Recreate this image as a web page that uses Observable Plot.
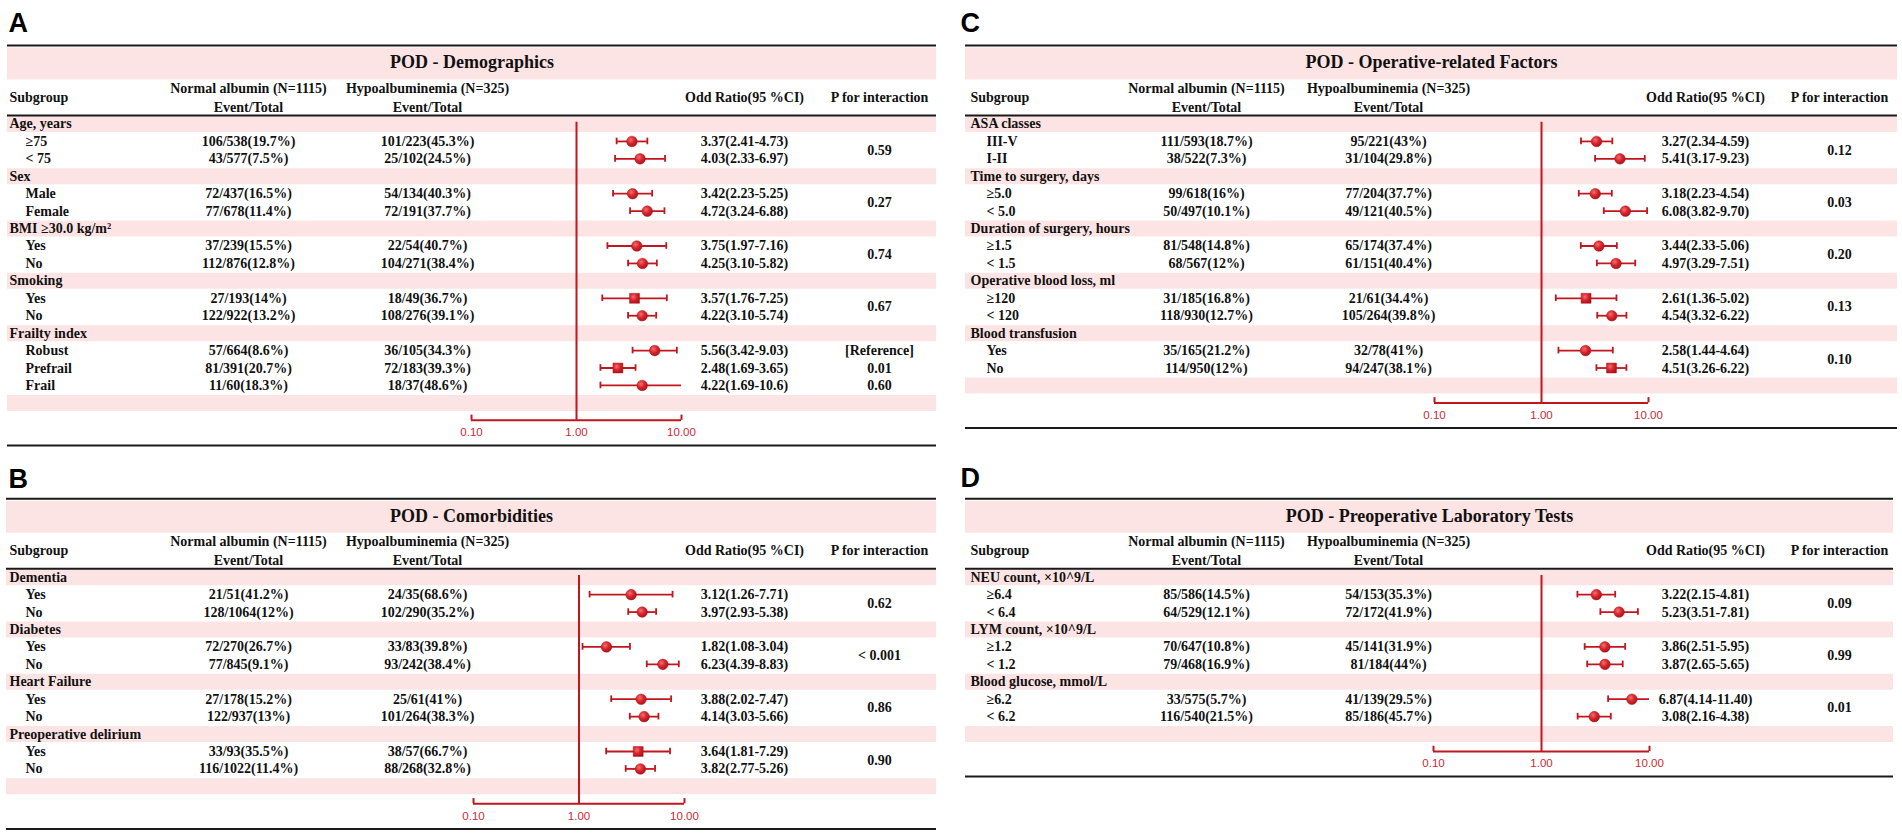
<!DOCTYPE html>
<html><head><meta charset="utf-8">
<script src="https://cdn.jsdelivr.net/npm/d3@7"></script>
<script src="https://cdn.jsdelivr.net/npm/@observablehq/plot@0.6"></script>
<style>
body{margin:0;background:#fff;}
#root{position:relative;width:1902px;height:835px;overflow:hidden;background:#fff;}
#root > svg{position:absolute;}
</style></head><body><div id="root"></div>
<script>
// ---------- shared text ----------
const hdrSubgroup = "Subgroup";
const hdrNormal = ["Normal albumin (N=1115)", "Event/Total"];
const hdrHypo = ["Hypoalbuminemia (N=325)", "Event/Total"];
const hdrOR = "Odd Ratio(95 %CI)";
const hdrP = "P for interaction";
const tickValues = [0.1, 1, 10];
const tickLabels = ["0.10", "1.00", "10.00"];

// ---------- Panel A ----------
const A_title = "POD - Demographics";
const A_groups = ["Age, years", "Sex", "BMI \u226530.0 kg/m\u00b2", "Smoking", "Frailty index"];
const A_subs = ["\u226575", "< 75", "Male", "Female", "Yes", "No", "Yes", "No", "Robust", "Prefrail", "Frail"];
const A_subOf = [0, 0, 1, 1, 2, 2, 3, 3, 4, 4, 4];
const A_normal = ["106/538(19.7%)", "43/577(7.5%)", "72/437(16.5%)", "77/678(11.4%)", "37/239(15.5%)", "112/876(12.8%)", "27/193(14%)", "122/922(13.2%)", "57/664(8.6%)", "81/391(20.7%)", "11/60(18.3%)"];
const A_hypo = ["101/223(45.3%)", "25/102(24.5%)", "54/134(40.3%)", "72/191(37.7%)", "22/54(40.7%)", "104/271(38.4%)", "18/49(36.7%)", "108/276(39.1%)", "36/105(34.3%)", "72/183(39.3%)", "18/37(48.6%)"];
const A_or = [3.37, 4.03, 3.42, 4.72, 3.75, 4.25, 3.57, 4.22, 5.56, 2.48, 4.22];
const A_lo = [2.41, 2.33, 2.23, 3.24, 1.97, 3.10, 1.76, 3.10, 3.42, 1.69, 1.69];
const A_hi = [4.73, 6.97, 5.25, 6.88, 7.16, 5.82, 7.25, 5.74, 9.03, 3.65, 10.6];
const A_orText = ["3.37(2.41-4.73)", "4.03(2.33-6.97)", "3.42(2.23-5.25)", "4.72(3.24-6.88)", "3.75(1.97-7.16)", "4.25(3.10-5.82)", "3.57(1.76-7.25)", "4.22(3.10-5.74)", "5.56(3.42-9.03)", "2.48(1.69-3.65)", "4.22(1.69-10.6)"];
const A_shape = ["circle", "circle", "circle", "circle", "circle", "circle", "square", "circle", "circle", "square", "circle"];
const A_p = ["0.59", "0.27", "0.74", "0.67", ["[Reference]", "0.01", "0.60"]];

// ---------- Panel B ----------
const B_title = "POD - Comorbidities";
const B_groups = ["Dementia", "Diabetes", "Heart Failure", "Preoperative delirium"];
const B_subs = ["Yes", "No", "Yes", "No", "Yes", "No", "Yes", "No"];
const B_subOf = [0, 0, 1, 1, 2, 2, 3, 3];
const B_normal = ["21/51(41.2%)", "128/1064(12%)", "72/270(26.7%)", "77/845(9.1%)", "27/178(15.2%)", "122/937(13%)", "33/93(35.5%)", "116/1022(11.4%)"];
const B_hypo = ["24/35(68.6%)", "102/290(35.2%)", "33/83(39.8%)", "93/242(38.4%)", "25/61(41%)", "101/264(38.3%)", "38/57(66.7%)", "88/268(32.8%)"];
const B_or = [3.12, 3.97, 1.82, 6.23, 3.88, 4.14, 3.64, 3.82];
const B_lo = [1.26, 2.93, 1.08, 4.39, 2.02, 3.03, 1.81, 2.77];
const B_hi = [7.71, 5.38, 3.04, 8.83, 7.47, 5.66, 7.29, 5.26];
const B_orText = ["3.12(1.26-7.71)", "3.97(2.93-5.38)", "1.82(1.08-3.04)", "6.23(4.39-8.83)", "3.88(2.02-7.47)", "4.14(3.03-5.66)", "3.64(1.81-7.29)", "3.82(2.77-5.26)"];
const B_shape = ["circle", "circle", "circle", "circle", "circle", "circle", "square", "circle"];
const B_p = ["0.62", "< 0.001", "0.86", "0.90"];

// ---------- Panel C ----------
const C_title = "POD - Operative-related Factors";
const C_groups = ["ASA classes", "Time to surgery, days", "Duration of surgery, hours", "Operative blood loss, ml", "Blood transfusion"];
const C_subs = ["III-V", "I-II", "\u22655.0", "< 5.0", "\u22651.5", "< 1.5", "\u2265120", "< 120", "Yes", "No"];
const C_subOf = [0, 0, 1, 1, 2, 2, 3, 3, 4, 4];
const C_normal = ["111/593(18.7%)", "38/522(7.3%)", "99/618(16%)", "50/497(10.1%)", "81/548(14.8%)", "68/567(12%)", "31/185(16.8%)", "118/930(12.7%)", "35/165(21.2%)", "114/950(12%)"];
const C_hypo = ["95/221(43%)", "31/104(29.8%)", "77/204(37.7%)", "49/121(40.5%)", "65/174(37.4%)", "61/151(40.4%)", "21/61(34.4%)", "105/264(39.8%)", "32/78(41%)", "94/247(38.1%)"];
const C_or = [3.27, 5.41, 3.18, 6.08, 3.44, 4.97, 2.61, 4.54, 2.58, 4.51];
const C_lo = [2.34, 3.17, 2.23, 3.82, 2.33, 3.29, 1.36, 3.32, 1.44, 3.26];
const C_hi = [4.59, 9.23, 4.54, 9.70, 5.06, 7.51, 5.02, 6.22, 4.64, 6.22];
const C_orText = ["3.27(2.34-4.59)", "5.41(3.17-9.23)", "3.18(2.23-4.54)", "6.08(3.82-9.70)", "3.44(2.33-5.06)", "4.97(3.29-7.51)", "2.61(1.36-5.02)", "4.54(3.32-6.22)", "2.58(1.44-4.64)", "4.51(3.26-6.22)"];
const C_shape = ["circle", "circle", "circle", "circle", "circle", "circle", "square", "circle", "circle", "square"];
const C_p = ["0.12", "0.03", "0.20", "0.13", "0.10"];

// ---------- Panel D ----------
const D_title = "POD - Preoperative Laboratory Tests";
const D_groups = ["NEU count, \u00d710^9/L", "LYM count, \u00d710^9/L", "Blood glucose, mmol/L"];
const D_subs = ["\u22656.4", "< 6.4", "\u22651.2", "< 1.2", "\u22656.2", "< 6.2"];
const D_subOf = [0, 0, 1, 1, 2, 2];
const D_normal = ["85/586(14.5%)", "64/529(12.1%)", "70/647(10.8%)", "79/468(16.9%)", "33/575(5.7%)", "116/540(21.5%)"];
const D_hypo = ["54/153(35.3%)", "72/172(41.9%)", "45/141(31.9%)", "81/184(44%)", "41/139(29.5%)", "85/186(45.7%)"];
const D_or = [3.22, 5.23, 3.86, 3.87, 6.87, 3.08];
const D_lo = [2.15, 3.51, 2.51, 2.65, 4.14, 2.16];
const D_hi = [4.81, 7.81, 5.95, 5.65, 11.40, 4.38];
const D_orText = ["3.22(2.15-4.81)", "5.23(3.51-7.81)", "3.86(2.51-5.95)", "3.87(2.65-5.65)", "6.87(4.14-11.40)", "3.08(2.16-4.38)"];
const D_shape = ["circle", "circle", "circle", "circle", "circle", "circle"];
const D_p = ["0.09", "0.99", "0.01"];

// ---------- build table rows ----------
function buildPanel(title, letter, groups, subs, subOf, normal, hypo, or, lo, hi, orText, shape, p) {
  const rows = [], pRows = [];
  let r = 0;
  groups.forEach((g, gi) => {
    rows.push({type: "group", r: r++, label: g});
    const mine = [];
    subs.forEach((s, i) => {
      if (subOf[i] !== gi) return;
      const row = {type: "sub", r: r++, label: s, normal: normal[i], hypo: hypo[i], or: or[i], lo: lo[i], hi: hi[i], orText: orText[i], shape: shape[i]};
      rows.push(row); mine.push(row);
    });
    if (Array.isArray(p[gi])) p[gi].forEach((t, k) => pRows.push({r: mine[k].r, t}));
    else pRows.push({r: d3.mean(mine, d => d.r), t: p[gi]});
  });
  const n = r + 1; // one trailing empty band
  return {title, letter, rows, pRows, n};
}

const RH = 17.43;
const red = "#c0161e", axisRed = "#cc2a30", pink = "#fde4e4", ink = "#111";
const serif = "'Liberation Serif','Times New Roman',serif";
const sans = "'Liberation Sans',Arial,sans-serif";

function drawPanel(cfg, P, gid) {
  const ml = cfg.frame[0], mr = cfg.width - cfg.frame[1];
  const dx = x => x - ml;
  const groupRows = P.rows.filter(d => d.type === "group");
  const subRows = P.rows.filter(d => d.type === "sub");
  const bands = groupRows.map(d => d.r).concat([P.n - 1]);
  const caps = subRows.flatMap(d => [{x: d.lo, r: d.r}].concat(d.hi <= 10 ? [{x: d.hi, r: d.r}] : []));
  const T = (data, o) => Plot.text(data, {fontFamily: serif, fontWeight: "bold", fontSize: 14, fill: ink, frameAnchor: "left", lineAnchor: "middle", ...o});
  const hdr = [{r: -2.03, t: null}];
  const svg = Plot.plot({
    width: cfg.width, height: cfg.height,
    margin: 0, marginLeft: ml, marginRight: mr,
    x: {type: "log", domain: [0.1, 10], range: cfg.xr, axis: null},
    y: {type: "linear", domain: [0, 1], range: [cfg.rowTop, cfg.rowTop + RH], axis: null},
    style: {background: "transparent", overflow: "visible"},
    marks: [
      // pink bands
      Plot.ruleY([-3.47], {stroke: pink, strokeWidth: 32}),
      Plot.ruleY(bands, {stroke: pink, strokeWidth: 16}),
      // black rules
      Plot.ruleY([-4.5, -0.49, P.n + 1.44], {stroke: "#1a1a1a", strokeWidth: 2}),
      // panel letter
      Plot.text([P.letter], {y: [cfg.letterR], text: d => d, frameAnchor: "left", dx: dx(cfg.letterX), textAnchor: "start", lineAnchor: "middle", fontFamily: sans, fontWeight: "bold", fontSize: 27, fill: "#000"}),
      // title
      Plot.text([P.title], {y: [-3.52], text: d => d, frameAnchor: "middle", textAnchor: "middle", lineAnchor: "middle", fontFamily: serif, fontWeight: "bold", fontSize: 18, fill: ink}),
      // headers
      T([hdrSubgroup], {y: [-1.52], text: d => d, dx: dx(cfg.col.sub), textAnchor: "start"}),
      T(hdrNormal, {y: [-2.03, -0.96], text: d => d, dx: dx(cfg.col.normal), textAnchor: "middle"}),
      T(hdrHypo, {y: [-2.03, -0.96], text: d => d, dx: dx(cfg.col.hypo), textAnchor: "middle"}),
      T([hdrOR], {y: [-1.52], text: d => d, dx: dx(cfg.col.or), textAnchor: "middle"}),
      T([hdrP], {y: [-1.52], text: d => d, dx: dx(cfg.col.p), textAnchor: "middle"}),
      // row labels
      T(groupRows, {y: "r", text: "label", dx: dx(cfg.col.sub), textAnchor: "start"}),
      T(subRows, {y: "r", text: "label", dx: dx(cfg.col.sub + 16), textAnchor: "start"}),
      T(subRows, {y: "r", text: "normal", dx: dx(cfg.col.normal), textAnchor: "middle"}),
      T(subRows, {y: "r", text: "hypo", dx: dx(cfg.col.hypo), textAnchor: "middle"}),
      T(subRows, {y: "r", text: "orText", dx: dx(cfg.col.or), textAnchor: "middle"}),
      T(P.pRows, {y: "r", text: "t", dx: dx(cfg.col.p), textAnchor: "middle"}),
      // reference line at OR = 1
      Plot.ruleX([1], {y1: -0.1, y2: P.n, stroke: red, strokeWidth: 2}),
      // axis
      Plot.ruleY([P.n], {x1: 0.1, x2: 10, stroke: red, strokeWidth: 2}),
      Plot.ruleX([0.1, 10], {x: d => d, y1: P.n - 0.3, y2: P.n, stroke: red, strokeWidth: 2}),
      Plot.text(tickValues, {x: d => d, y: P.n + 0.69, text: (d, i) => tickLabels[i], textAnchor: "middle", lineAnchor: "middle", fontFamily: sans, fontSize: 11.5, fill: axisRed}),
      // confidence intervals
      Plot.ruleY(subRows, {y: "r", x1: "lo", x2: d => Math.min(d.hi, 10), stroke: red, strokeWidth: 1.8}),
      Plot.ruleX(caps, {x: "x", y1: d => d.r - 0.19, y2: d => d.r + 0.19, stroke: red, strokeWidth: 1.8}),
      // point estimates
      Plot.dot(subRows.filter(d => d.shape === "circle"), {x: "or", y: "r", r: 5.3, symbol: "circle", fill: `url(#${gid})`, stroke: "#b3141b", strokeWidth: 0.5}),
      Plot.dot(subRows.filter(d => d.shape === "square"), {x: "or", y: "r", r: 5.6, symbol: "square", fill: `url(#${gid})`, stroke: "#b3141b", strokeWidth: 0.5})
    ]
  });
  const grad = d3.select(svg).insert("defs", ":first-child").append("radialGradient")
    .attr("id", gid).attr("cx", "38%").attr("cy", "35%").attr("r", "70%");
  grad.append("stop").attr("offset", "0%").attr("stop-color", "#f2706f");
  grad.append("stop").attr("offset", "50%").attr("stop-color", "#d7262d");
  grad.append("stop").attr("offset", "100%").attr("stop-color", "#a9111a");
  svg.style.left = cfg.left + "px";
  svg.style.top = cfg.top + "px";
  document.getElementById("root").appendChild(svg);
}

const colsAB = {sub: 9, normal: 248, hypo: 427, or: 744, p: 879};
const colsCD = {sub: 20, normal: 256, hypo: 438, or: 755, p: 889};
const toR = (px, top) => (px - top) / RH;

const cfgA = {left: 0, top: 0, width: 950, height: 452, frame: [7, 936], rowTop: 123.5, xr: [471, 681], col: colsAB, letterX: 8};
cfgA.letterR = toR(22.5, cfgA.rowTop);
const cfgB = {left: 0, top: 454, width: 950, height: 381, frame: [6, 936], rowTop: 122.7, xr: [473, 684], col: colsAB, letterX: 8};
cfgB.letterR = toR(24.5, cfgB.rowTop);
const cfgC = {left: 950, top: 0, width: 952, height: 452, frame: [15, 947], rowTop: 123.5, xr: [484, 698], col: colsCD, letterX: 10};
cfgC.letterR = toR(22.5, cfgC.rowTop);
const cfgD = {left: 950, top: 454, width: 952, height: 381, frame: [15, 943], rowTop: 122.7, xr: [483, 699], col: colsCD, letterX: 10};
cfgD.letterR = toR(24, cfgD.rowTop);

drawPanel(cfgA, buildPanel(A_title, "A", A_groups, A_subs, A_subOf, A_normal, A_hypo, A_or, A_lo, A_hi, A_orText, A_shape, A_p), "gA");
drawPanel(cfgB, buildPanel(B_title, "B", B_groups, B_subs, B_subOf, B_normal, B_hypo, B_or, B_lo, B_hi, B_orText, B_shape, B_p), "gB");
drawPanel(cfgC, buildPanel(C_title, "C", C_groups, C_subs, C_subOf, C_normal, C_hypo, C_or, C_lo, C_hi, C_orText, C_shape, C_p), "gC");
drawPanel(cfgD, buildPanel(D_title, "D", D_groups, D_subs, D_subOf, D_normal, D_hypo, D_or, D_lo, D_hi, D_orText, D_shape, D_p), "gD");
</script></body></html>
